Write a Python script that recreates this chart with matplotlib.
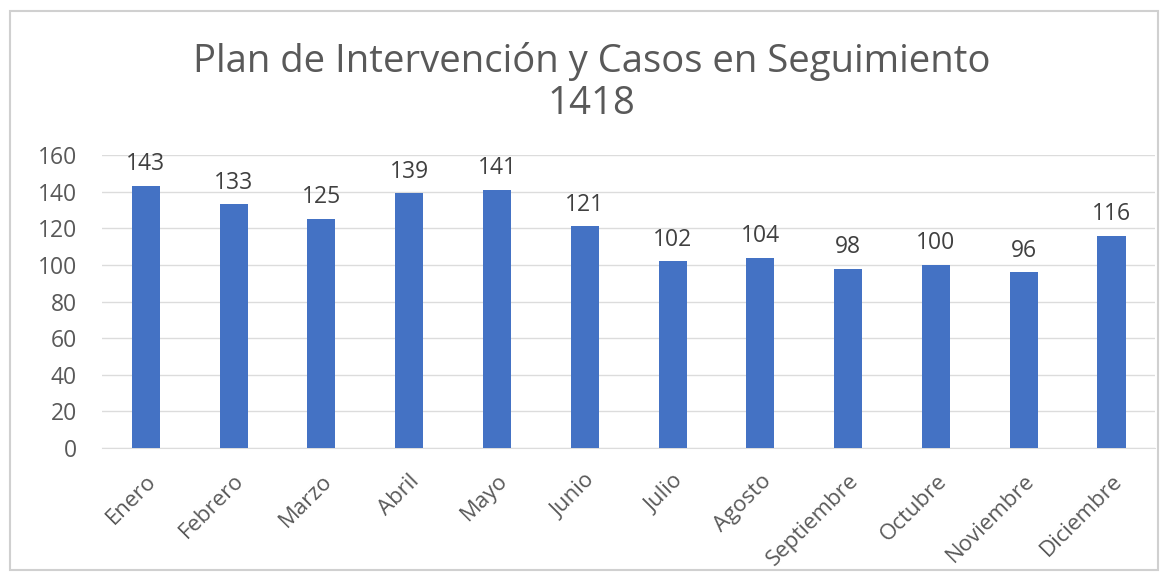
import matplotlib.pyplot as plt
from matplotlib.patches import Rectangle

meses = ["Enero", "Febrero", "Marzo", "Abril", "Mayo", "Junio", "Julio",
         "Agosto", "Septiembre", "Octubre", "Noviembre", "Diciembre"]
casos = [143, 133, 125, 139, 141, 121, 102, 104, 98, 100, 96, 116]
yticks = [0, 20, 40, 60, 80, 100, 120, 140, 160]

plt.rcParams["font.family"] = ["Open Sans", "DejaVu Sans"]
gris = "#595959"

fig = plt.figure(figsize=(11.64, 5.73), dpi=100)
ax = fig.add_axes([0.0876, 0.218, 0.905, 0.5115])

x = range(len(meses))
bars = ax.bar(x, casos, width=0.32, color="#4472c4", zorder=3)
for b, v in zip(bars, casos):
    ax.annotate(str(v), (b.get_x() + b.get_width() / 2, v), xytext=(0, 7),
                textcoords="offset points", ha="center", va="bottom",
                fontsize=16.5, color="#404040")

ax.set_xlim(-0.5, len(meses) - 0.5)
ax.set_ylim(0, 160)
ax.set_yticks(yticks)
ax.yaxis.grid(True, color="#dcdcdc", linewidth=1, zorder=0)
ax.set_xticks(list(x))
ax.set_xticklabels(meses, rotation=45, ha="right", rotation_mode="anchor",
                   fontsize=16, color=gris)
ax.tick_params(axis="y", labelsize=16.5, labelcolor=gris, length=0, pad=18)
ax.tick_params(axis="x", length=0, pad=16)
for s in ["top", "right", "left"]:
    ax.spines[s].set_visible(False)
ax.spines["bottom"].set_color("#dcdcdc")

fig.text(0.508, 0.893, "Plan de Intervención y Casos en Seguimiento", ha="center",
         va="center", fontsize=27.5, color=gris)
fig.text(0.508, 0.818, "1418", ha="center", va="center", fontsize=27.5, color=gris)

fig.patches.append(Rectangle((0.009, 0.005), 0.986, 0.975, transform=fig.transFigure,
                             fill=False, edgecolor="#d0d0d0", linewidth=1.5))

fig.savefig("out.png", dpi=100)
